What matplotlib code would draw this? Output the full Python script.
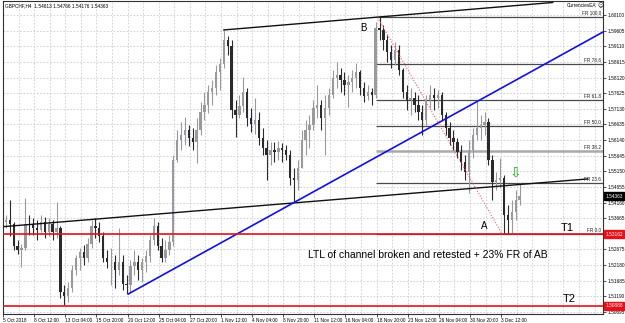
import numpy as np
import matplotlib
matplotlib.use("Agg")
import matplotlib.pyplot as plt

plt.rcParams['font.family'] = ['Liberation Sans', 'DejaVu Sans']

# ---------------- data ----------------
symbol_info = "GBPCHF,H4  1.54613 1.54766 1.54176 1.54363"
ea_name = "CurrenciesEA"

first_open = 1.5355
highs = [
    1.5377, 1.5424, 1.5355, 1.5298, 1.5285, 1.5431, 1.5377, 1.5367, 1.5361, 1.5377,
    1.5371, 1.5367, 1.5361, 1.5418, 1.5342, 1.5155, 1.5165, 1.5219, 1.5250, 1.5272,
    1.5282, 1.5304, 1.5361, 1.5367, 1.5355, 1.5323, 1.5266, 1.5272, 1.5250, 1.5336,
    1.5250, 1.5187, 1.5234, 1.5266, 1.5250, 1.5241, 1.5266, 1.5314, 1.5367, 1.5355,
    1.5304, 1.5298, 1.5314, 1.5567, 1.5646, 1.5671, 1.5687, 1.5662, 1.5652, 1.5684,
    1.5735, 1.5767, 1.5789, 1.5805, 1.5852, 1.5874, 1.5963, 1.5944, 1.5931, 1.5741,
    1.5757, 1.5814, 1.5779, 1.5716, 1.5748, 1.5703, 1.5652, 1.5614, 1.5608, 1.5608,
    1.5611, 1.5605, 1.5599, 1.5583, 1.5526, 1.5551, 1.5646, 1.5678, 1.5694, 1.5741,
    1.5789, 1.5741, 1.5757, 1.5779, 1.5836, 1.5862, 1.5843, 1.5830, 1.5820, 1.5836,
    1.5858, 1.5836, 1.5798, 1.5789, 1.5779, 1.5988, 1.6003, 1.5979, 1.5947, 1.5915,
    1.5925, 1.5915, 1.5843, 1.5789, 1.5779, 1.5767, 1.5757, 1.5725, 1.5757, 1.5789,
    1.5779, 1.5773, 1.5767, 1.5703, 1.5671, 1.5646, 1.5621, 1.5599, 1.5567, 1.5614,
    1.5652, 1.5741, 1.5694, 1.5703, 1.5684, 1.5567, 1.5513, 1.5557, 1.5504, 1.5409,
    1.5424, 1.5456, 1.5478]
lows = [
    1.5336, 1.5310, 1.5266, 1.5253, 1.5212, 1.5266, 1.5314, 1.5314, 1.5298, 1.5323,
    1.5304, 1.5310, 1.5298, 1.5304, 1.5114, 1.5092, 1.5101, 1.5133, 1.5187, 1.5203,
    1.5219, 1.5228, 1.5272, 1.5304, 1.5291, 1.5228, 1.5209, 1.5155, 1.5146, 1.5187,
    1.5139, 1.5127, 1.5133, 1.5187, 1.5171, 1.5165, 1.5196, 1.5228, 1.5282, 1.5266,
    1.5228, 1.5228, 1.5250, 1.5279, 1.5545, 1.5583, 1.5599, 1.5595, 1.5583, 1.5542,
    1.5630, 1.5678, 1.5700, 1.5725, 1.5757, 1.5773, 1.5843, 1.5884, 1.5684, 1.5624,
    1.5684, 1.5703, 1.5659, 1.5640, 1.5633, 1.5599, 1.5567, 1.5488, 1.5535, 1.5545,
    1.5551, 1.5545, 1.5551, 1.5472, 1.5418, 1.5456, 1.5526, 1.5567, 1.5589, 1.5646,
    1.5684, 1.5646, 1.5567, 1.5694, 1.5748, 1.5779, 1.5767, 1.5757, 1.5719, 1.5767,
    1.5779, 1.5757, 1.5735, 1.5741, 1.5725, 1.5748, 1.5931, 1.5900, 1.5862, 1.5843,
    1.5852, 1.5820, 1.5748, 1.5710, 1.5694, 1.5703, 1.5678, 1.5630, 1.5662, 1.5716,
    1.5710, 1.5716, 1.5678, 1.5630, 1.5599, 1.5583, 1.5557, 1.5519, 1.5488, 1.5447,
    1.5557, 1.5614, 1.5614, 1.5630, 1.5535, 1.5424, 1.5456, 1.5462, 1.5316, 1.5318,
    1.5317, 1.5361, 1.5409]
closes = [
    1.5361, 1.5348, 1.5279, 1.5266, 1.5272, 1.5348, 1.5345, 1.5336, 1.5329, 1.5355,
    1.5323, 1.5348, 1.5323, 1.5336, 1.5133, 1.5120, 1.5146, 1.5203, 1.5241, 1.5260,
    1.5241, 1.5285, 1.5342, 1.5336, 1.5310, 1.5241, 1.5228, 1.5228, 1.5203, 1.5228,
    1.5158, 1.5155, 1.5215, 1.5228, 1.5203, 1.5228, 1.5247, 1.5298, 1.5342, 1.5279,
    1.5241, 1.5266, 1.5291, 1.5551, 1.5614, 1.5630, 1.5646, 1.5621, 1.5608, 1.5646,
    1.5703, 1.5725, 1.5767, 1.5779, 1.5830, 1.5855, 1.5931, 1.5912, 1.5710, 1.5694,
    1.5722, 1.5767, 1.5684, 1.5665, 1.5678, 1.5621, 1.5589, 1.5567, 1.5583, 1.5576,
    1.5589, 1.5583, 1.5567, 1.5494, 1.5488, 1.5526, 1.5614, 1.5646, 1.5662, 1.5716,
    1.5725, 1.5684, 1.5716, 1.5757, 1.5811, 1.5820, 1.5805, 1.5789, 1.5798, 1.5811,
    1.5830, 1.5779, 1.5754, 1.5767, 1.5757, 1.5969, 1.5963, 1.5931, 1.5893, 1.5868,
    1.5900, 1.5836, 1.5767, 1.5741, 1.5748, 1.5725, 1.5703, 1.5678, 1.5741, 1.5757,
    1.5748, 1.5757, 1.5694, 1.5652, 1.5621, 1.5608, 1.5576, 1.5545, 1.5513, 1.5583,
    1.5630, 1.5652, 1.5662, 1.5671, 1.5551, 1.5481, 1.5488, 1.5494, 1.5377, 1.5361,
    1.5386, 1.5424, 1.5436]

date_labels = ["5 Oct 2018", "8 Oct 12:00", "13 Oct 04:00", "15 Oct 20:00",
               "20 Oct 12:00", "25 Oct 04:00", "27 Oct 20:00", "1 Nov 12:00",
               "4 Nov 04:00", "8 Nov 20:00", "11 Nov 12:00", "16 Nov 04:00",
               "18 Nov 20:00", "23 Nov 12:00", "26 Nov 04:00", "30 Nov 20:00",
               "3 Dec 12:00"]
price_labels = [1.60100, 1.59605, 1.59110, 1.58615, 1.58120, 1.57625, 1.57130,
                1.56635, 1.56140, 1.55645, 1.55150, 1.54655, 1.54160, 1.53665,
                1.53170, 1.52675, 1.52180, 1.51685, 1.51190, 1.50695]

# drawings (bar index, price)
upper_channel_bars = [113, 282]
upper_channel_prices = [1.5963, 1.6050]
ltl_bars = [0, 300]
ltl_prices = [1.5340, 1.5491]
trend_bars = [64, 308]
trend_prices = [1.5127, 1.5957]
ab_bars = [192, 256]
ab_prices = [1.6003, 1.5316]
fib_start_bar = 191
fib_A = 1.53162
fib_B = 1.60031
fib_ratios = [0.0, 23.6, 38.2, 50.0, 61.8, 78.6, 100.0]
t1_price = 1.53162
t2_price = 1.50888
last_price = 1.54363

# ---------------- figure ----------------
W, H = 625, 323
fig = plt.figure(figsize=(W / 100, H / 100), dpi=100, facecolor='white')
ax = fig.add_axes([3 / W, (H - 313.5) / H, 600 / W, 312.5 / H])
ax.set_facecolor('white')
ax.set_xlim(0, 307.85)
ax.set_ylim(1.50647, 1.60547)

n = len(closes)
xb = 1 + 2 * np.arange(n)
c = np.array(closes)
o = np.concatenate([[first_open], c[:-1]])
hi = np.maximum.reduce([np.array(highs), o, c])
lo = np.minimum.reduce([np.array(lows), o, c])
up = c >= o

grid_kw = dict(color='#c9c9dc', lw=0.6, linestyle=(0, (2, 2)), zorder=0)
for p in price_labels:
    ax.axhline(p, **grid_kw)
for gx in np.arange(1, 39) * 8 - 0.5:
    ax.axvline(gx, **grid_kw)

bull_col, bear_col = '#9a9a9a', '#2a2a2a'
cols = np.where(up, bull_col, bear_col)
ax.vlines(xb, lo, hi, colors=cols, lw=0.8, zorder=3)
ax.bar(xb, np.maximum(np.abs(c - o), 0.00008), bottom=np.minimum(o, c), width=1.2,
       color=cols, linewidth=0, zorder=3)

# Fibonacci levels
for r in fib_ratios:
    lvl = fib_A + r / 100.0 * (fib_B - fib_A)
    if r == 38.2:
        ax.hlines(lvl, fib_start_bar, 307.85, colors='#a9a9a9', lw=1.8, zorder=2)
    else:
        ax.hlines(lvl, fib_start_bar, 307.85, colors='#4a4a4a', lw=0.9, zorder=2)
    ax.annotate(f"FR {r:.1f}", xy=(306.8, lvl), xytext=(0, 0.6), textcoords='offset points',
                ha='right', va='bottom', fontsize=3.4, color='#202020', zorder=6)

# lines
ax.plot(upper_channel_bars, upper_channel_prices, color='#101010', lw=1.0, zorder=4, clip_on=False)
ax.plot(ltl_bars, ltl_prices, color='#101010', lw=1.0, zorder=4)
ax.plot(trend_bars, trend_prices, color='#1010e8', lw=1.2, zorder=4)
ax.plot(ab_bars, ab_prices, color='#ff5a5a', lw=0.8, linestyle=(0, (1, 1.5)), zorder=4)
ax.axhline(t1_price, color='#e3121b', lw=1.2, zorder=5)
ax.axhline(t2_price, color='#e3121b', lw=1.2, zorder=5)

# annotations
ax.text(184.7, 1.5969, "B", fontsize=7, ha='center', va='center', zorder=7)
ax.text(247.0, 1.5342, "A", fontsize=7, ha='center', va='center', zorder=7)
ax.text(289.6, 1.5336, "T1", fontsize=8, ha='center', va='center', zorder=7)
ax.text(290.4, 1.5111, "T2", fontsize=8, ha='center', va='center', zorder=7)
ax.text(156.5, 1.5249, "LTL of channel broken and retested + 23% FR of AB",
        fontsize=7.5, ha='left', va='center', zorder=7)
ax.text(263.0, 1.5510, "\u21e9", fontsize=10, color='#2ca02c', ha='center', va='center',
        family='DejaVu Sans', zorder=7)

ax.text(0.003, 0.985, symbol_info, transform=ax.transAxes, fontsize=3.4,
        ha='left', va='center', zorder=8)
ax.text(0.988, 0.985, ea_name, transform=ax.transAxes, fontsize=3.4,
        ha='right', va='center', zorder=8)
ax.text(0.9955, 0.985, "\u263a", transform=ax.transAxes, fontsize=4,
        ha='center', va='center', family='DejaVu Sans', zorder=8)

# axes
for s in ax.spines.values():
    s.set_color('#303030')
    s.set_linewidth(0.8)
ax.yaxis.tick_right()
ax.set_yticks(price_labels)
# the label at the T1 level is hidden behind the T1 price box
ax.set_yticklabels(["" if abs(p - t1_price) < 0.0002 else f"{p:.5f}" for p in price_labels])
ax.set_xticks(np.arange(len(date_labels)) * 16 - 0.5)
ax.set_xticklabels(date_labels)
for lbl in ax.get_xticklabels():
    lbl.set_ha('left')
ax.tick_params(axis='both', labelsize=3.4, length=2, width=0.6, pad=1, color='#303030')

def price_box(price, text, fc):
    ax.text(1.0035, price, text, transform=ax.get_yaxis_transform(), fontsize=3.4,
            color='white', ha='left', va='center', clip_on=False, zorder=10,
            bbox=dict(boxstyle='square,pad=0.3', fc=fc, ec=fc))

price_box(t1_price, f"{t1_price:.5f}", '#e3121b')
price_box(t2_price, f"{t2_price:.5f}", '#e3121b')
price_box(last_price, f"{last_price:.5f}", '#000000')

fig.savefig("out.png", dpi=100, facecolor='white')
